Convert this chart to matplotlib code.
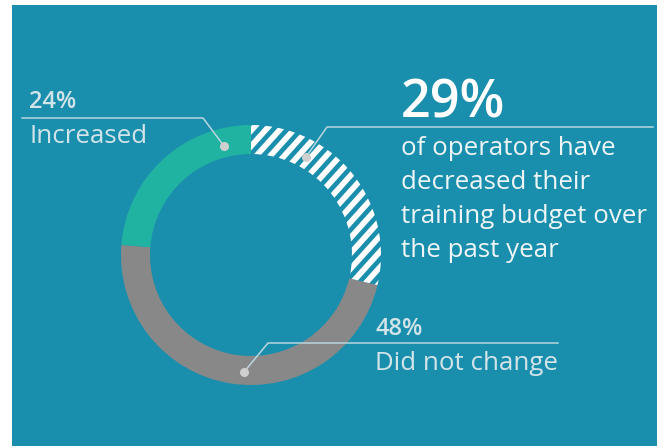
import numpy as np
import matplotlib.pyplot as plt
import matplotlib.patches as patches

# survey shares, drawn clockwise from 12 o'clock
categories = ['Decreased', 'Did not change', 'Increased']
shares = [29, 48, 24]
share_labels = ['29%', '48%', '24%']
headline = ['of operators have', 'decreased their', 'training budget over', 'the past year']

BG = '#1a8fad'
TEAL = '#21b3a1'
GRAY = '#888888'
LABEL = '#d3e4e9'
LINE = '#b9d6df'
DOT = '#cfcfcf'

plt.rcParams['font.family'] = ['Open Sans', 'DejaVu Sans']

W, H = 667, 448
fig = plt.figure(figsize=(W / 100, H / 100), dpi=100)
fig.patch.set_facecolor('white')
ax = fig.add_axes([0, 0, 1, 1])

# blue panel
ax.add_patch(patches.Rectangle((12, 2), 645, 441, facecolor=BG, edgecolor='none', zorder=0))

cx, cy, r = 251, H - 255, 130
wedges, _ = ax.pie(shares, startangle=90, counterclock=False, center=(cx, cy),
                   radius=r, colors=[BG, GRAY, TEAL],
                   wedgeprops=dict(width=29, linewidth=0))
ax.set_xlim(0, W)
ax.set_ylim(0, H)
ax.set_aspect('equal')
ax.axis('off')

# white diagonal stripes clipped to the "decreased" slice
ang = np.deg2rad(48)
d = np.array([np.cos(ang), np.sin(ang)])
nrm = np.array([-d[1], d[0]])
for k in np.arange(-30, 31):
    p = np.array([cx, cy]) + k * 10.4 * nrm
    seg = np.array([p - 300 * d, p + 300 * d])
    ln, = ax.plot(seg[:, 0], seg[:, 1], color='white', lw=4.1,
                  solid_capstyle='butt', zorder=2)
    ln.set_clip_path(wedges[0])


def callout(dot, knee, end):
    x0, y0 = dot
    ax.plot([x0, knee[0], end[0]], [H - y0, H - knee[1], H - end[1]],
            color=LINE, lw=1.1, zorder=3)
    ax.plot(x0, H - y0, 'o', ms=6.5, color=DOT, mec='none', zorder=4)


callout((224, 146), (203, 118), (22, 118))
callout((306, 157), (327, 127), (653, 127))
callout((244, 372), (268, 343), (558, 343))

# increased
ax.text(29, H - 108, share_labels[2], color=LABEL, fontsize=17, fontweight='semibold')
ax.text(29, H - 143, 'Increased', color=LABEL, fontsize=18.6)

# did not change
ax.text(375, H - 335, share_labels[1], color=LABEL, fontsize=17, fontweight='semibold')
ax.text(375, H - 370, 'Did not change', color=LABEL, fontsize=18.6)

# decreased headline
ax.text(401, H - 117, share_labels[0], color='white', fontsize=37.5, fontweight='semibold')
for i, line in enumerate(headline):
    ax.text(401, H - 155 - 34 * i, line, color='#eef5f7', fontsize=18.6)

fig.savefig('out.png', dpi=100, facecolor=fig.get_facecolor())
